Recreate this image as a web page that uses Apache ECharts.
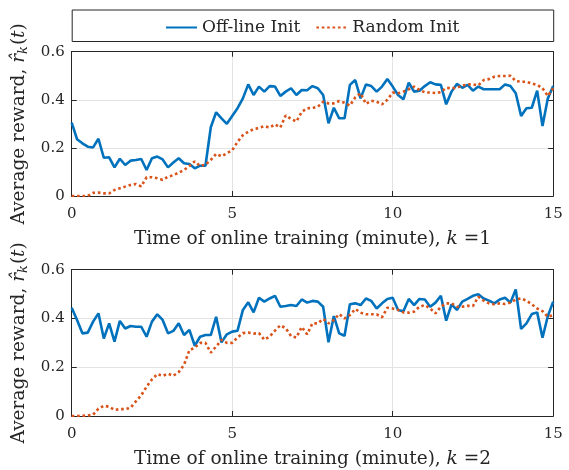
<!DOCTYPE html>
<html>
<head>
<meta charset="utf-8">
<script src="https://cdn.jsdelivr.net/npm/echarts@6/dist/echarts.min.js"></script>
<style>html,body{margin:0;padding:0;background:#fff}#c{width:569px;height:470px}</style>
</head>
<body>
<div id="c"></div>
<script>
// sampling grid: one sample every 10 seconds, 0..15 minutes
const sampleCount = 91;
const xTicks = [0, 5, 10, 15];
const yTicks = [0, 0.2, 0.4, 0.6];
const seriesNames = ['Off-line Init', 'Random Init'];

const offlineK1 = [
  .305, .236, .219, .205, .202, .238, .159, .161, .119, .155,
  .129, .147, .150, .154, .108, .157, .164, .152, .119, .139,
  .157, .136, .133, .115, .126, .126, .286, .348, .323, .300,
  .333, .365, .406, .464, .420, .455, .434, .457, .455, .416,
  .434, .448, .420, .441, .440, .457, .448, .420, .302, .367,
  .323, .323, .462, .482, .406, .464, .457, .434, .455, .486,
  .455, .420, .402, .471, .434, .438, .457, .473, .464, .462,
  .381, .434, .466, .450, .462, .438, .455, .444, .444, .444,
  .444, .464, .457, .427, .333, .365, .367, .438, .291, .406,
  .457
];
const randomK1 = [
  0, 0, 0, 0, .013, .014, .011, .011, .025, .032,
  .039, .046, .050, .040, .078, .078, .074, .067, .080, .087,
  .097, .108, .125, .144, .125, .130, .150, .175, .165, .178,
  .190, .225, .253, .267, .278, .283, .290, .285, .298, .285,
  .335, .320, .310, .350, .365, .366, .371, .392, .385, .385,
  .395, .388, .376, .410, .427, .383, .396, .392, .381, .400,
  .430, .427, .434, .444, .455, .441, .431, .430, .428, .432,
  .450, .448, .450, .459, .464, .464, .460, .482, .486, .496,
  .499, .499, .500, .478, .475, .475, .468, .462, .448, .416,
  .448
];
const offlineK2 = [
  .444, .394, .339, .342, .387, .421, .318, .380, .305, .390,
  .359, .369, .366, .366, .325, .387, .417, .394, .339, .349,
  .380, .332, .353, .288, .325, .332, .332, .407, .302, .335,
  .346, .350, .435, .466, .425, .485, .469, .482, .493, .448,
  .451, .455, .451, .478, .465, .472, .469, .448, .302, .410,
  .339, .329, .458, .462, .455, .482, .472, .441, .462, .480,
  .485, .435, .430, .480, .455, .480, .478, .448, .465, .493,
  .391, .458, .435, .469, .480, .493, .499, .482, .473, .462,
  .478, .485, .465, .519, .357, .380, .418, .425, .321, .410,
  .469
];
const randomK2 = [
  0, 0, .001, .002, .005, .030, .042, .038, .025, .028,
  .028, .034, .060, .085, .120, .150, .172, .165, .173, .165,
  .180, .210, .270, .280, .300, .300, .260, .285, .312, .300,
  .300, .322, .340, .342, .338, .340, .313, .326, .350, .372,
  .360, .328, .322, .365, .335, .380, .380, .398, .380, .394,
  .418, .400, .414, .439, .424, .417, .417, .417, .405, .444,
  .441, .435, .425, .424, .428, .448, .455, .441, .421, .448,
  .462, .462, .448, .448, .452, .451, .489, .473, .462, .458,
  .462, .459, .465, .478, .482, .473, .458, .441, .430, .407,
  .414
];

const timeMin = [];
for (let i = 0; i < sampleCount; i++) timeMin.push(i / 6);
const pairs = arr => arr.map((v, i) => [timeMin[i], v]);

const FONT = 'DejaVu Serif';
const INK = '#262626';
const BLUE = '#0072BD';
const RED = '#D95319';
const GRIDC = '#e3e3e3';

const grids = [
  {left: 71.7, top: 51.7, width: 481.5, height: 144.3},
  {left: 71.7, top: 269.7, width: 481.5, height: 146.3}
];

const xAxes = [], yAxes = [];
grids.forEach((g, gi) => {
  const xname = '{n|Time of online training (minute), }{i|k}{n| =' + (gi + 1) + '}';
  xAxes.push({
    gridIndex: gi, type: 'value', min: xTicks[0], max: xTicks[xTicks.length - 1], interval: 5,
    axisLine: {show: true, onZero: false, lineStyle: {color: INK, width: 1}},
    axisTick: {show: true, inside: true, length: 5, lineStyle: {color: INK}},
    axisLabel: {color: INK, fontFamily: FONT, fontSize: 15, margin: 11},
    splitLine: {show: true, lineStyle: {color: GRIDC, width: 1}},
    name: xname, nameLocation: 'middle', nameGap: 34,
    nameTextStyle: {
      color: INK, fontFamily: FONT, fontSize: 18.5,
      rich: {
        n: {fontFamily: FONT, fontSize: 18.5, color: INK},
        i: {fontFamily: FONT, fontSize: 18.5, fontStyle: 'italic', color: INK}
      }
    }
  });
  xAxes.push({
    gridIndex: gi, type: 'value', position: 'top', min: 0, max: 15, interval: 5,
    axisLine: {show: true, onZero: false, lineStyle: {color: INK, width: 1}},
    axisTick: {show: true, inside: true, length: 5, lineStyle: {color: INK}},
    axisLabel: {show: false}, splitLine: {show: false}
  });
  yAxes.push({
    gridIndex: gi, type: 'value', min: yTicks[0], max: yTicks[yTicks.length - 1], interval: 0.2,
    axisLine: {show: true, onZero: false, lineStyle: {color: INK, width: 1}},
    axisTick: {show: true, inside: true, length: 5, lineStyle: {color: INK}},
    axisLabel: {color: INK, fontFamily: FONT, fontSize: 15, margin: 7,
      formatter: v => (v === 0 ? '0' : v.toFixed(1))},
    splitLine: {show: true, lineStyle: {color: GRIDC, width: 1}},
    name: '{n|Average reward, }{i|r̂}{s|k}{n|(}{i|t}{n|)}',
    nameLocation: 'middle', nameRotate: 90, nameGap: 39,
    nameTextStyle: {
      color: INK, fontFamily: FONT, fontSize: 18.5,
      rich: {
        n: {fontFamily: FONT, fontSize: 18.5, color: INK},
        i: {fontFamily: FONT, fontSize: 18.5, fontStyle: 'italic', color: INK},
        s: {fontFamily: FONT, fontSize: 13, fontStyle: 'italic', color: INK, padding: [9, 1, 0, 0]}
      }
    }
  });
  yAxes.push({
    gridIndex: gi, type: 'value', position: 'right', min: 0, max: 0.6, interval: 0.2,
    axisLine: {show: true, onZero: false, lineStyle: {color: INK, width: 1}},
    axisTick: {show: true, inside: true, length: 5, lineStyle: {color: INK}},
    axisLabel: {show: false}, splitLine: {show: false}
  });
});

const mk = (name, data, gi, color, dotted) => ({
  name, type: 'line', xAxisIndex: gi * 2, yAxisIndex: gi * 2, data: pairs(data),
  symbol: 'none', showSymbol: false, animation: false,
  lineStyle: dotted ? {color, width: 2.6, type: [2.6, 2.8], cap: 'butt'} : {color, width: 2.6},
  itemStyle: {color}
});

const chart = echarts.init(document.getElementById('c'), null, {renderer: 'canvas'});
chart.setOption({
  animation: false,
  backgroundColor: '#fff',
  grid: grids,
  xAxis: xAxes,
  yAxis: yAxes,
  graphic: [{
    type: 'rect', left: 71.7, top: 9.5, z: 0,
    shape: {width: 481.5, height: 31.5},
    style: {fill: '#fff', stroke: INK, lineWidth: 1}
  }],
  legend: {
    data: seriesNames, left: 160, top: 14, itemWidth: 31, itemHeight: 14, itemGap: 15,
    itemStyle: {opacity: 0},
    textStyle: {fontFamily: FONT, fontSize: 17, color: INK}, z: 10
  },
  series: [
    mk(seriesNames[0], offlineK1, 0, BLUE, false),
    mk(seriesNames[1], randomK1, 0, RED, true),
    mk(seriesNames[0], offlineK2, 1, BLUE, false),
    mk(seriesNames[1], randomK2, 1, RED, true)
  ]
});
</script>
</body>
</html>
